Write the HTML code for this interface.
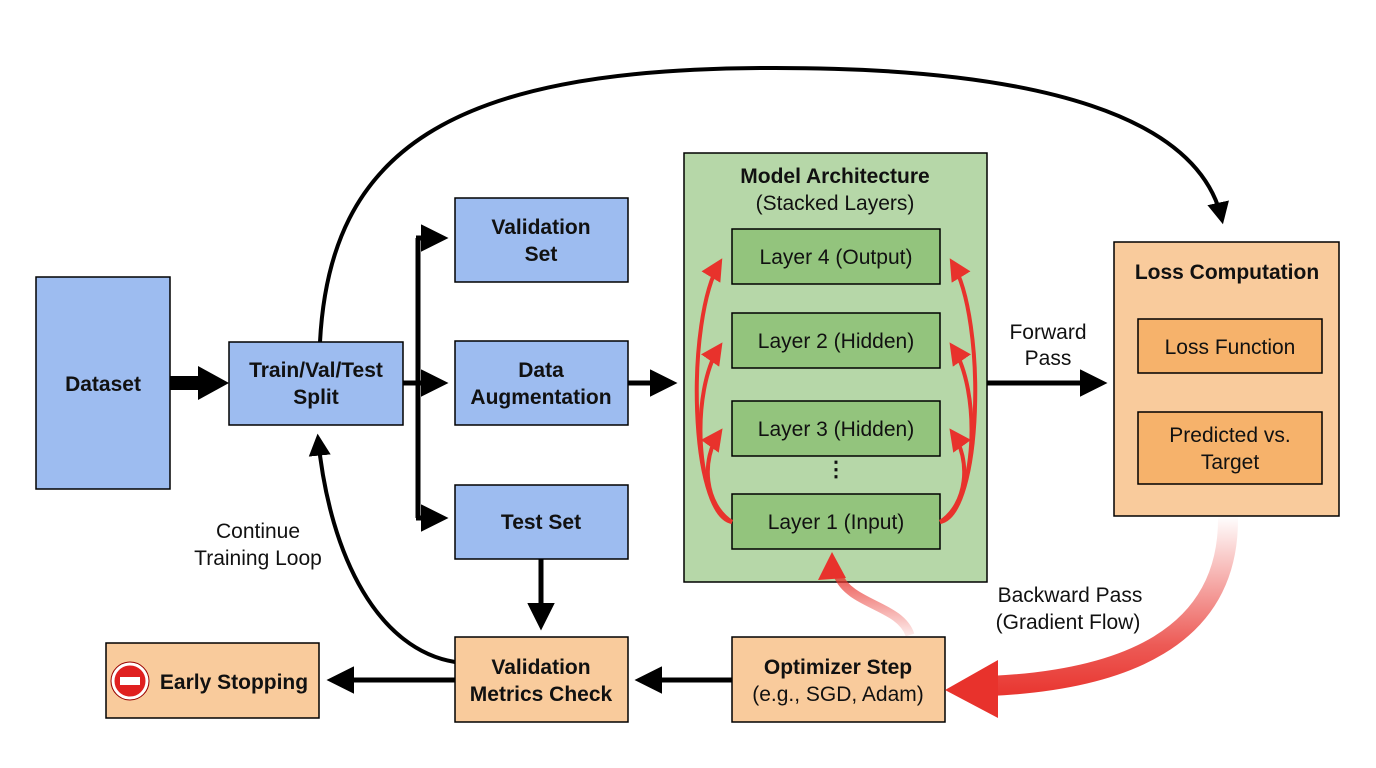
<!DOCTYPE html>
<html><head><meta charset="utf-8"><style>
body{margin:0;background:#fff;}
svg{display:block;font-family:"Liberation Sans",Arial,sans-serif;}
</style></head><body>
<svg width="1376" height="768" viewBox="0 0 1376 768" xmlns="http://www.w3.org/2000/svg">
<defs>
<marker id="ah" viewBox="0 0 10 10" refX="8" refY="5" markerWidth="5.5" markerHeight="5.5" orient="auto-start-reverse" markerUnits="strokeWidth"><path d="M0,0 L10,5 L0,10 z" fill="#000"/></marker>
<marker id="rh" viewBox="0 0 10 10" refX="8" refY="5" markerWidth="5.5" markerHeight="5.5" orient="auto" markerUnits="strokeWidth"><path d="M0,0 L10,5 L0,10 z" fill="#e8322c"/></marker>
<linearGradient id="g1" x1="0" y1="516" x2="0" y2="700" gradientUnits="userSpaceOnUse"><stop offset="0" stop-color="#e8322c" stop-opacity="0"/><stop offset="0.7" stop-color="#e8322c" stop-opacity="0.8"/><stop offset="1" stop-color="#e8322c"/></linearGradient>
<linearGradient id="g2" x1="0" y1="635" x2="0" y2="560" gradientUnits="userSpaceOnUse"><stop offset="0" stop-color="#e8322c" stop-opacity="0.1"/><stop offset="1" stop-color="#e8322c"/></linearGradient>
</defs>
<g stroke="#000" stroke-width="1.5">
<rect x="36" y="277" width="134" height="212" fill="#9dbcf0"/>
<rect x="229" y="342" width="174" height="83" fill="#9dbcf0"/>
<rect x="455" y="198" width="173" height="84" fill="#9dbcf0"/>
<rect x="455" y="341" width="173" height="84" fill="#9dbcf0"/>
<rect x="455" y="485" width="173" height="74" fill="#9dbcf0"/>
<rect x="684" y="153" width="303" height="429" fill="#b6d7a8"/>
<rect x="732" y="229" width="208" height="55" fill="#93c47d"/>
<rect x="732" y="313" width="208" height="55" fill="#93c47d"/>
<rect x="732" y="401" width="208" height="55" fill="#93c47d"/>
<rect x="732" y="494" width="208" height="55" fill="#93c47d"/>
<rect x="1114" y="242" width="225" height="274" fill="#f9cb9c"/>
<rect x="1138" y="319" width="184" height="54" fill="#f6b26b"/>
<rect x="1138" y="412" width="184" height="72" fill="#f6b26b"/>
<rect x="455" y="637" width="173" height="85" fill="#f9cb9c"/>
<rect x="732" y="637" width="213" height="85" fill="#f9cb9c"/>
<rect x="106" y="643" width="213" height="75" fill="#f9cb9c"/>
</g>
<g stroke="#000" fill="none">
<line x1="170" y1="383" x2="200" y2="383" stroke-width="14"/>
<path d="M198,366 L229,383 L198,400z" fill="#000" stroke="none"/>
<path d="M418,238 V518" stroke-width="5"/>
<line x1="403" y1="383" x2="443" y2="383" stroke-width="5" marker-end="url(#ah)"/>
<line x1="416" y1="238" x2="443" y2="238" stroke-width="5" marker-end="url(#ah)"/>
<line x1="416" y1="518" x2="443" y2="518" stroke-width="5" marker-end="url(#ah)"/>
<line x1="628" y1="383" x2="672" y2="383" stroke-width="5" marker-end="url(#ah)"/>
<line x1="987" y1="383" x2="1102" y2="383" stroke-width="5" marker-end="url(#ah)"/>
<line x1="541" y1="559" x2="541" y2="625" stroke-width="5" marker-end="url(#ah)"/>
<line x1="732" y1="680" x2="640" y2="680" stroke-width="5" marker-end="url(#ah)"/>
<line x1="455" y1="680" x2="332" y2="680" stroke-width="5" marker-end="url(#ah)"/>
<path d="M320,342 C330,150 450,70 760,68 C1050,66 1200,120 1222,220" stroke-width="4" marker-end="url(#ah)"/>
<path d="M455,662 C380,650 330,560 318,438" stroke-width="4" marker-end="url(#ah)"/>
</g>
<g stroke="#e8322c" stroke-width="4" fill="none">
<path d="M732,522 C690,515 685,320 720,262" marker-end="url(#rh)"/>
<path d="M732,522 C695,505 690,390 720,346" marker-end="url(#rh)"/>
<path d="M732,522 C705,505 700,460 720,432" marker-end="url(#rh)"/>
<path d="M940,522 C982,515 987,320 952,262" marker-end="url(#rh)"/>
<path d="M940,522 C977,505 982,390 952,346" marker-end="url(#rh)"/>
<path d="M940,522 C967,505 972,460 952,432" marker-end="url(#rh)"/>
</g>
<path d="M910,635 C900,605 850,605 838,575" stroke="url(#g2)" stroke-width="9" fill="none"/>
<path d="M818,580 L832,552 L846,578z" fill="#e8322c"/>
<path d="M1228,516 C1230,640 1120,680 990,686" stroke="url(#g1)" stroke-width="20" fill="none"/>
<path d="M998,660 L945,690 L998,718z" fill="#e8322c"/>
<g font-size="21" text-anchor="middle" fill="#111">
<g font-weight="bold">
<text x="103" y="391">Dataset</text>
<text x="316" y="377">Train/Val/Test</text><text x="316" y="404">Split</text>
<text x="541" y="234">Validation</text><text x="541" y="261">Set</text>
<text x="541" y="377">Data</text><text x="541" y="404">Augmentation</text>
<text x="541" y="529">Test Set</text>
<text x="835" y="183">Model Architecture</text>
<text x="1227" y="279">Loss Computation</text>
<text x="541" y="674">Validation</text><text x="541" y="701">Metrics Check</text>
<text x="838" y="674">Optimizer Step</text>
<text x="234" y="689">Early Stopping</text>
</g>
<text x="835" y="210">(Stacked Layers)</text>
<text x="836" y="264">Layer 4 (Output)</text>
<text x="836" y="348">Layer 2 (Hidden)</text>
<text x="836" y="436">Layer 3 (Hidden)</text>
<text x="836" y="529">Layer 1 (Input)</text>
<text x="836" y="476" font-weight="bold">⋮</text>
<text x="1048" y="339">Forward</text><text x="1048" y="365">Pass</text>
<text x="1230" y="354">Loss Function</text>
<text x="1230" y="442">Predicted vs.</text><text x="1230" y="469">Target</text>
<text x="838" y="701">(e.g., SGD, Adam)</text>
<text x="258" y="538">Continue</text><text x="258" y="565">Training Loop</text>
<text x="1070" y="602">Backward Pass</text><text x="1068" y="629">(Gradient Flow)</text>
</g>
<circle cx="130" cy="681" r="17" fill="#e02020" stroke="#fff" stroke-width="3"/>
<circle cx="130" cy="681" r="19" fill="none" stroke="#900" stroke-width="1"/>
<rect x="120" y="677" width="20" height="8" fill="#fff"/>
</svg>
</body></html>
